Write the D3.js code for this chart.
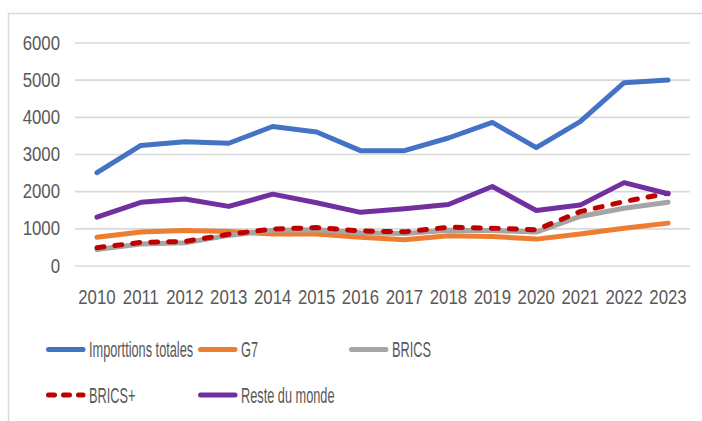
<!DOCTYPE html>
<html>
<head>
<meta charset="utf-8">
<script src="https://cdn.jsdelivr.net/npm/d3@7"></script>
<style>
    body { margin: 0; background: #fff; }
    text { font-family: "Liberation Sans", Arial, sans-serif; fill: #595959; }
</style>
</head>
<body>
<svg id="chart" width="702" height="421"></svg>
<script>
// Data
var years = [2010, 2011, 2012, 2013, 2014, 2015, 2016, 2017, 2018, 2019, 2020, 2021, 2022, 2023];
var yTicks = [0, 1000, 2000, 3000, 4000, 5000, 6000];

var importsTotal = [2500, 3230, 3330, 3290, 3740, 3590, 3090, 3090, 3430, 3850, 3170, 3870, 4920, 4990];
var g7 = [760, 900, 940, 915, 850, 845, 760, 690, 800, 780, 710, 850, 1000, 1140];
var brics = [430, 580, 610, 810, 950, 960, 880, 860, 950, 940, 900, 1320, 1540, 1700];
var bricsPlus = [480, 620, 645, 840, 980, 1020, 930, 905, 1030, 1005, 960, 1450, 1720, 1945];
var resteMonde = [1300, 1700, 1790, 1590, 1920, 1690, 1430, 1525, 1640, 2125, 1480, 1625, 2230, 1930];

var seriesNames = ["Importtions totales", "G7", "BRICS", "BRICS+", "Reste du monde"];
var seriesValues = [importsTotal, g7, brics, bricsPlus, resteMonde];
var seriesColors = ["#4472c4", "#ed7d31", "#a5a5a5", "#c00000", "#7030a0"];

// the text in the picture is squeezed horizontally
var tickSqueeze = 0.82;
var legendSqueeze = 0.58;

var svg = d3.select("#chart");

// outer chart border (only top and left visible in the picture)
svg.append("rect")
    .attr("x", 8.5).attr("y", 13.5)
    .attr("width", 720).attr("height", 440)
    .attr("fill", "none")
    .attr("stroke", "#d9d9d9")
    .attr("stroke-width", 1.5);

var x = d3.scaleBand().domain(years).range([75, 690]);
var y = d3.scaleLinear().domain([0, 6000]).range([265.5, 42.5]);

// y axis + gridlines
var yAxis = svg.append("g")
    .attr("transform", "translate(75,0)")
    .call(d3.axisLeft(y).tickValues(yTicks).tickFormat(d3.format("d")).tickSize(-615).tickPadding(15));
yAxis.select(".domain").remove();
yAxis.selectAll("line").attr("stroke", "#d9d9d9").attr("stroke-width", 1.6);
yAxis.selectAll("text")
    .style("font-size", "20.5px")
    .attr("fill", "#595959")
    .attr("x", -15 / tickSqueeze)
    .attr("transform", "scale(" + tickSqueeze + ",1)");

// x axis labels
var xAxis = svg.append("g")
    .attr("transform", "translate(0,265.5)")
    .call(d3.axisBottom(x).tickSize(0).tickPadding(24));
xAxis.select(".domain").remove();
xAxis.selectAll("text")
    .style("font-size", "20.5px")
    .attr("fill", "#595959")
    .attr("transform", "scale(" + tickSqueeze + ",1)");

// lines
var line = d3.line()
    .x(function (d, i) { return x(years[i]) + x.bandwidth() / 2; })
    .y(function (d) { return y(d); });

for (var s = 0; s < seriesValues.length; s++) {
    svg.append("path")
        .datum(seriesValues[s])
        .attr("d", line)
        .attr("fill", "none")
        .attr("stroke", seriesColors[s])
        .attr("stroke-width", 5)
        .attr("stroke-linejoin", "round")
        .attr("stroke-linecap", "round")
        .attr("stroke-dasharray", seriesNames[s] == "BRICS+" ? "7,11" : null);
}

// legend (two rows)
var legendPos = [[46, 349.5], [198, 349.5], [349, 349.5], [46, 395], [198, 395]];
for (var k = 0; k < seriesNames.length; k++) {
    var g = svg.append("g").attr("transform", "translate(" + legendPos[k][0] + "," + legendPos[k][1] + ")");
    g.append("line")
        .attr("x1", 2.5).attr("x2", 37)
        .attr("stroke", seriesColors[k])
        .attr("stroke-width", 5)
        .attr("stroke-linecap", "round")
        .attr("stroke-dasharray", seriesNames[k] == "BRICS+" ? "6,9" : null);
    g.append("text")
        .attr("transform", "translate(43,0) scale(" + legendSqueeze + ",1)")
        .attr("dy", "0.35em")
        .style("font-size", "22px")
        .text(seriesNames[k]);
}
</script>
</body>
</html>
